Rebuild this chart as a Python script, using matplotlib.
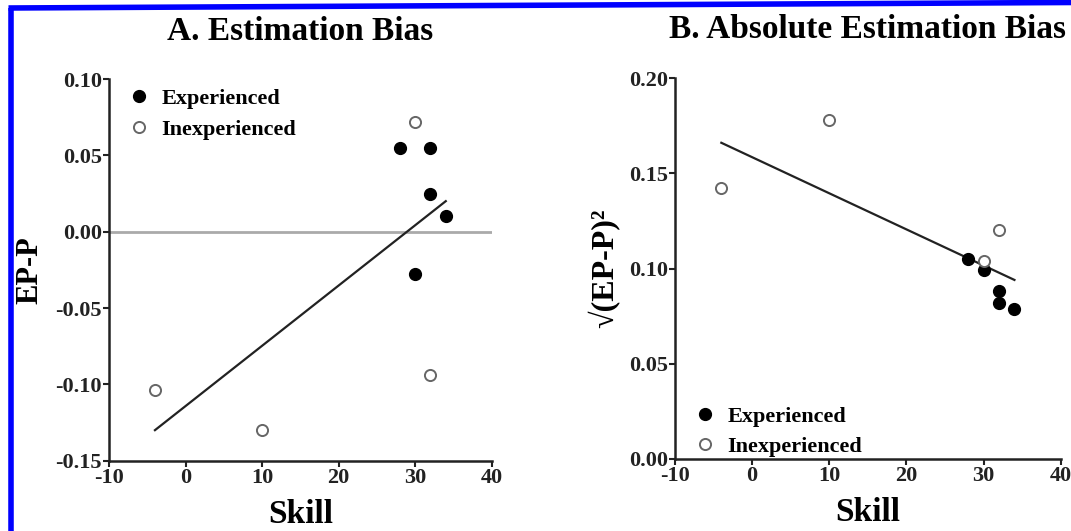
import matplotlib
matplotlib.use("Agg")
import matplotlib.pyplot as plt
from matplotlib.lines import Line2D

plt.rcParams['font.family'] = ['Liberation Serif', 'DejaVu Serif']
plt.rcParams['font.weight'] = 'bold'

# panel A: estimation bias
a_exp_skill = [28, 32, 32, 34, 30]
a_exp_bias = [0.055, 0.055, 0.025, 0.010, -0.028]
a_inexp_skill = [30, -4, 10, 32]
a_inexp_bias = [0.072, -0.104, -0.130, -0.094]
a_fit_x = [-4, 34]
a_fit_y = [-0.130, 0.020]

# panel B: absolute estimation bias
b_exp_skill = [28, 30, 32, 32, 34]
b_exp_bias = [0.105, 0.099, 0.088, 0.082, 0.079]
b_inexp_skill = [-4, 10, 30, 32]
b_inexp_bias = [0.142, 0.178, 0.104, 0.120]
b_fit_x = [-4, 34]
b_fit_y = [0.166, 0.094]

x_ticks = [-10, 0, 10, 20, 30, 40]
a_yticks = [-0.15, -0.10, -0.05, 0.00, 0.05, 0.10]
b_yticks = [0.00, 0.05, 0.10, 0.15, 0.20]


def style_axes(ax):
    for side in ['top', 'right']:
        ax.spines[side].set_visible(False)
    for side in ['left', 'bottom']:
        ax.spines[side].set_linewidth(1.8)
        ax.spines[side].set_color('#222222')
    ax.tick_params(direction='out', length=4, width=1.5, labelsize=16, pad=1, colors='#222222')
    ax.set_xlim(-10, 40)
    ax.set_xticks(x_ticks)
    ax.set_xticklabels([str(t) for t in x_ticks], fontweight='bold')
    ax.set_xlabel('Skill', fontsize=24, fontweight='bold', labelpad=8)


def scatter_groups(ax, exp_x, exp_y, inexp_x, inexp_y):
    ax.plot(exp_x, exp_y, 'o', ms=8.5, mfc='black', mec='black', label='Experienced', zorder=3)
    ax.plot(inexp_x, inexp_y, 'o', ms=8, mfc='white', mec='#666666', mew=1.4, label='Inexperienced', zorder=3)


fig = plt.figure(figsize=(10.71, 5.31), dpi=100)

# panel A
ax1 = fig.add_axes([0.1018, 0.1324, 0.3573, 0.7188])
style_axes(ax1)
ax1.axhline(0, color='#aaaaaa', lw=2, zorder=1)
ax1.plot(a_fit_x, a_fit_y, color='#222222', lw=1.6, zorder=2)
scatter_groups(ax1, a_exp_skill, a_exp_bias, a_inexp_skill, a_inexp_bias)
ax1.set_ylim(-0.15, 0.10)
ax1.set_yticks(a_yticks)
ax1.set_yticklabels(['%.2f' % t for t in a_yticks], fontweight='bold')
ax1.set_ylabel('EP-P', fontsize=22, fontweight='bold', labelpad=8)
ax1.set_title('A. Estimation Bias', fontsize=24, fontweight='bold', pad=28)
ax1.legend(loc='upper left', frameon=False, fontsize=16, handletextpad=0.5,
           borderaxespad=0.2, labelspacing=0.45, handlelength=1.0, bbox_to_anchor=(0.015, 1.01))

# panel B
ax2 = fig.add_axes([0.6303, 0.1356, 0.3601, 0.7175])
style_axes(ax2)
ax2.plot(b_fit_x, b_fit_y, color='#222222', lw=1.6, zorder=2)
scatter_groups(ax2, b_exp_skill, b_exp_bias, b_inexp_skill, b_inexp_bias)
ax2.set_ylim(0, 0.20)
ax2.set_yticks(b_yticks)
ax2.set_yticklabels(['%.2f' % t for t in b_yticks], fontweight='bold')
ax2.set_ylabel('√(EP-P)²', fontsize=23, fontweight='bold', labelpad=6)
ax2.set_title('B. Absolute Estimation Bias', fontsize=24, fontweight='bold', pad=29)
ax2.legend(loc='lower left', frameon=False, fontsize=16, handletextpad=0.5,
           borderaxespad=0.2, labelspacing=0.45, handlelength=1.0, bbox_to_anchor=(0.015, -0.03))

# blue border of the scanned figure
fig.add_artist(Line2D([10.5 / 1071, 10.5 / 1071], [0, 1 - 8 / 531], transform=fig.transFigure,
                      color='#0000ff', lw=4, solid_capstyle='butt'))
fig.add_artist(Line2D([8.5 / 1071, 1.0], [1 - 8 / 531, 1 - 2.5 / 531], transform=fig.transFigure,
                      color='#0000ff', lw=4, solid_capstyle='butt'))

fig.savefig('out.png', dpi=100)
